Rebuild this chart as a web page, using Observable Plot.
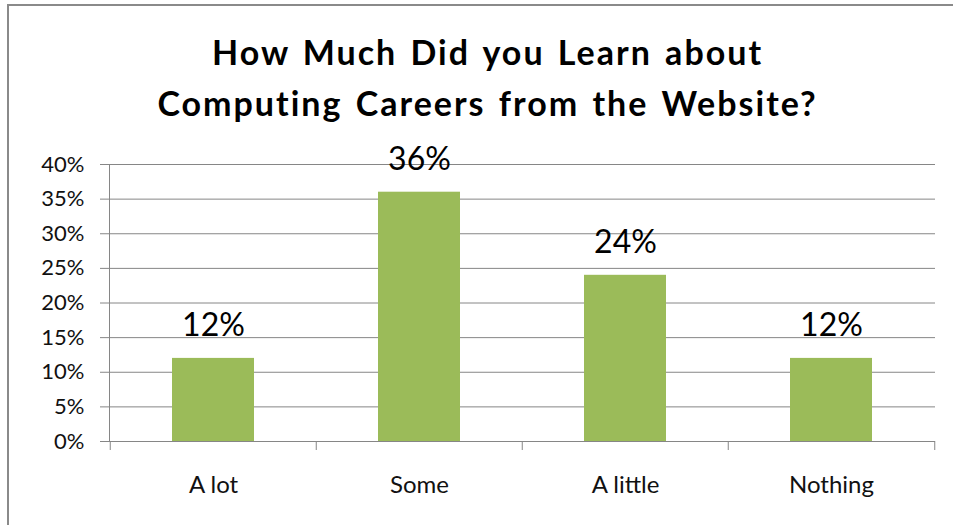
<!DOCTYPE html>
<html>
<head>
<meta charset="utf-8">
<script src="https://cdn.jsdelivr.net/npm/d3@7"></script>
<script src="https://cdn.jsdelivr.net/npm/@observablehq/plot@0.6"></script>
<style>
  html, body { margin: 0; padding: 0; background: #fff; overflow: hidden; width: 953px; height: 525px; }
  #border { position: absolute; left: 7px; top: 4px; width: 2000px; height: 2000px;
            border-left: 2px solid #8a8a8a; border-top: 2px solid #8a8a8a; pointer-events: none; }
  #title { box-sizing: border-box; height: 135px; padding-top: 26.3px; padding-left: 22px;
           font: bold 34px Lato, "Open Sans", sans-serif; line-height: 51px; letter-spacing: 2px; word-spacing: 3px;
           text-align: center; color: #000; }
  #chart svg { display: block; }
</style>
</head>
<body>
<div id="border"></div>
<div id="title"></div>
<div id="chart"></div>
<script>
const titleLines = ["How Much Did you Learn about", "Computing Careers from the Website?"];
const categories = ["A lot", "Some", "A little", "Nothing"];
const values = [0.12, 0.36, 0.24, 0.12];
const valueLabels = ["12%", "36%", "24%", "12%"];
const yTicks = [0, 0.05, 0.10, 0.15, 0.20, 0.25, 0.30, 0.35, 0.40];
const yTickLabels = ["0%", "5%", "10%", "15%", "20%", "25%", "30%", "35%", "40%"];

const data = categories.map((c, i) => ({cat: c, value: values[i], label: valueLabels[i]}));

document.getElementById("title").innerHTML = titleLines.join("<br>");

const W = 953, H = 390, ML = 109, MR = 18, MT = 29, MB = 84;
const step = (W - ML - MR) / categories.length;
const grid = "#868686";
const green = "#9bbb59";

const chart = Plot.plot({
  width: W,
  height: H,
  marginLeft: ML,
  marginRight: MR,
  marginTop: MT,
  marginBottom: MB,
  style: {fontFamily: "Lato, 'Open Sans', sans-serif", background: "transparent", color: "#000"},
  x: {domain: categories, paddingInner: 0.6, paddingOuter: 0.3, label: null},
  y: {domain: [0, 0.4], label: null},
  marks: [
    Plot.ruleY(yTicks, {y: d => d, stroke: grid}),
    Plot.barY(data, {x: "cat", y: "value", fill: green}),
    Plot.frame({anchor: "left", stroke: grid}),
    Plot.axisY({ticks: yTicks, tickFormat: (d, i) => yTickLabels[i], tickSize: 9, tickPadding: 16,
                fontSize: 22, stroke: grid, color: "#111", label: null}),
    Plot.axisX({tickSize: 9, tickFormat: () => "", dx: -step / 2, stroke: grid, label: null}),
    Plot.axisX({ticks: [categories[categories.length - 1]], tickSize: 9, tickFormat: () => "", dx: step / 2, stroke: grid, label: null}),
    Plot.axisX({tickSize: 0, tickPadding: 34, fontSize: 24, color: "#111", label: null}),
    Plot.text(data, {x: "cat", y: "value", text: "label", lineAnchor: "bottom", dy: -22, fontSize: 32, fill: "#000"})
  ]
});
document.getElementById("chart").appendChild(chart);
</script>
</body>
</html>
